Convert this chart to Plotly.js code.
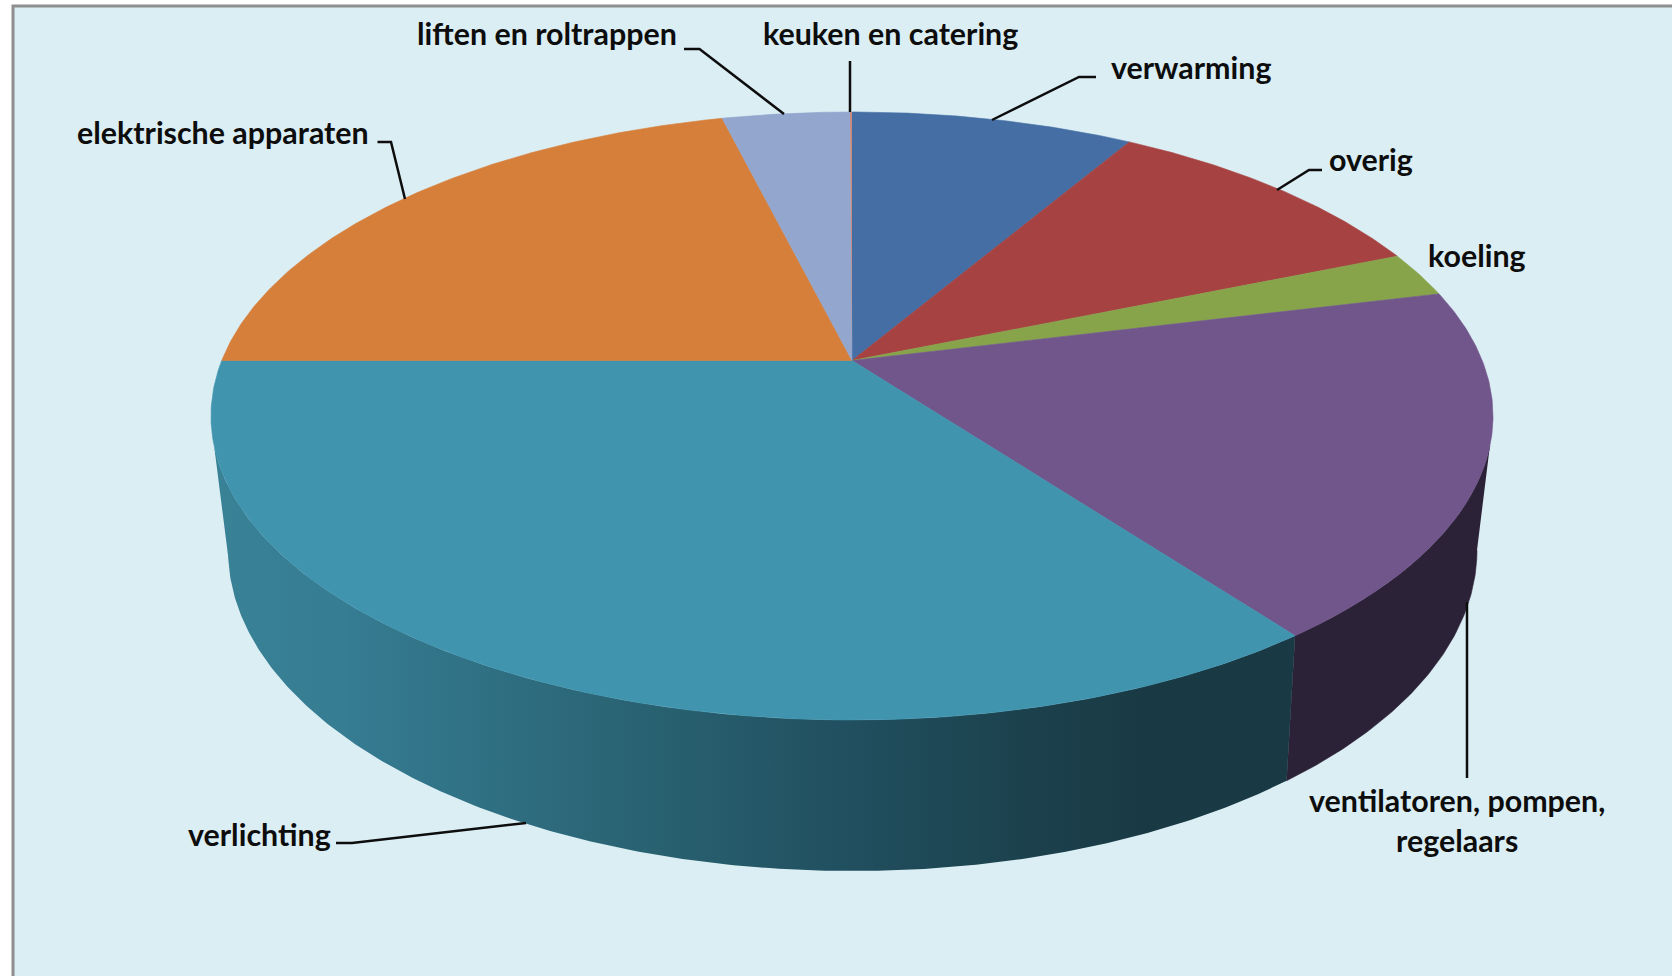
<!DOCTYPE html>
<html>
<head>
<meta charset="utf-8">
<script src="https://cdn.plot.ly/plotly-3.0.1.min.js"></script>
<style>html,body{margin:0;padding:0;background:#fff}#chart{width:1672px;height:976px}</style>
</head>
<body>
<div id="chart"></div>
<script>
// Data: share of energy use (%), clockwise from 12 o'clock
const categories = ["verwarming","overig","koeling","ventilatoren, pompen, regelaars","verlichting","elektrische apparaten","liften en roltrappen","keuken en catering"];
const values = [8.5, 10.3, 2.4, 18.55, 35.25, 21.1, 3.84, 0.06];
const topColors = ["#456FA4","#A64342","#88A44B","#71568B","#4094AE","#D67F3B","#93A6CD","#C98A7E"];
const labelTexts = ["verwarming","overig","koeling","ventilatoren, pompen,<br>regelaars","verlichting","elektrische apparaten","liften en roltrappen","keuken en catering"];
const labelX = [1190.5,1371,1477,1457,259,223,547,890];
const labelY = [67,159,255,820,834,132,33,33];
const leaders = [
  "M1096,77 L1079,77 L992,120",
  "M1322,170 L1309,170 L1277,190",
  "M1467,602 L1467,778",
  "M336,843 L352,843 L526,823",
  "M377.5,142 L391,142 L405,199",
  "M684,49 L699.5,49 L784,114",
  "M850,61 L850,112"
];

// Perspective projection of the pie's upper and lower circles (pixel-scale axes)
const topDisc = {cx:852, cy:416, a:641, b:304, k:0.1825};
const botDisc = {cx:852.5, cy:550, a:624.5, b:321, k:0.19};
function project(d, deg){
  const t = deg*Math.PI/180, u = Math.sin(t), v = Math.cos(t);
  const w = 1 + d.k*v, A = d.a*Math.sqrt(1-d.k*d.k);
  return [d.cx + A*u/w, d.cy - (d.b*v + d.k*d.b)/w];
}
function arc(d, a0, a1){
  const n = Math.max(2, Math.ceil(Math.abs(a1-a0)/0.5)), pts = [];
  for(let i=0;i<=n;i++) pts.push(project(d, a0+(a1-a0)*i/n));
  return pts;
}
const apex = [topDisc.cx, topDisc.cy - topDisc.k*topDisc.b];

const total = values.reduce((s,x)=>s+x,0);
let acc = 0;
const angles = values.map(x=>{const s=acc; acc+=x; return [s/total*360, acc/total*360];});

function poly(pts, style){
  return Object.assign({type:"scatter", mode:"lines", x:pts.map(p=>p[0]), y:pts.map(p=>p[1]),
    fill:"toself", line:{width:0.6, color:style.edge||"rgba(0,0,0,0)"}, hoverinfo:"skip", showlegend:false}, style.extra||{});
}

const traces = [];
// Side wall of "ventilatoren" and "verlichting": the only visible wall segments
const ventEnd = angles[3][1];
const wallVent = arc(topDisc, 106, ventEnd).concat(arc(botDisc, ventEnd, 101));
traces.push(poly(wallVent, {edge:"#2C2237", extra:{fillcolor:"#2C2237", name:"wall " + categories[3]}}));
const wallLight = arc(topDisc, ventEnd, 254).concat(arc(botDisc, 259, ventEnd));
traces.push(poly(wallLight, {extra:{fillcolor:"#2a6070", name:"wall " + categories[4],
  fillgradient:{type:"horizontal", colorscale:[
    [0,"#398296"],[0.12,"#367C92"],[0.28,"#2E6D80"],[0.42,"#28606F"],[0.58,"#215060"],[0.74,"#1C424E"],[0.86,"#193A45"],[1,"#193A45"]
  ]}}}));
// Top face slices
categories.forEach((c,i)=>{
  const pts = [apex].concat(arc(topDisc, angles[i][0], angles[i][1])).concat([apex]);
  traces.push(poly(pts, {edge: i===7 ? "rgba(0,0,0,0)" : topColors[i], extra:{fillcolor:topColors[i], name:c}}));
});

const shapes = [
  {type:"rect", xref:"x", yref:"y", x0:13, y0:6, x1:1760, y1:1040, layer:"below",
   fillcolor:"#DBEEF4", line:{color:"#8E8E8E", width:3}}
].concat(leaders.map(p=>({type:"path", xref:"x", yref:"y", path:p, line:{color:"#0D0D0D", width:2.5}})));

const annotations = labelTexts.map((t,i)=>({
  text:t, x:labelX[i], y:labelY[i], xref:"x", yref:"y", showarrow:false,
  xanchor:"center", yanchor:"middle", align:"center",
  font:{family:"Lato, sans-serif", size:30.4, color:"#0D0D0D", weight:700}
}));

const layout = {
  width:1672, height:976, margin:{l:0,r:0,t:0,b:0,pad:0},
  paper_bgcolor:"#FFFFFF", plot_bgcolor:"#FFFFFF",
  xaxis:{range:[0,1672], visible:false, fixedrange:true},
  yaxis:{range:[976,0], visible:false, fixedrange:true},
  showlegend:false, shapes, annotations
};
Plotly.newPlot("chart", traces, layout, {displayModeBar:false, staticPlot:true});
</script>
</body>
</html>
